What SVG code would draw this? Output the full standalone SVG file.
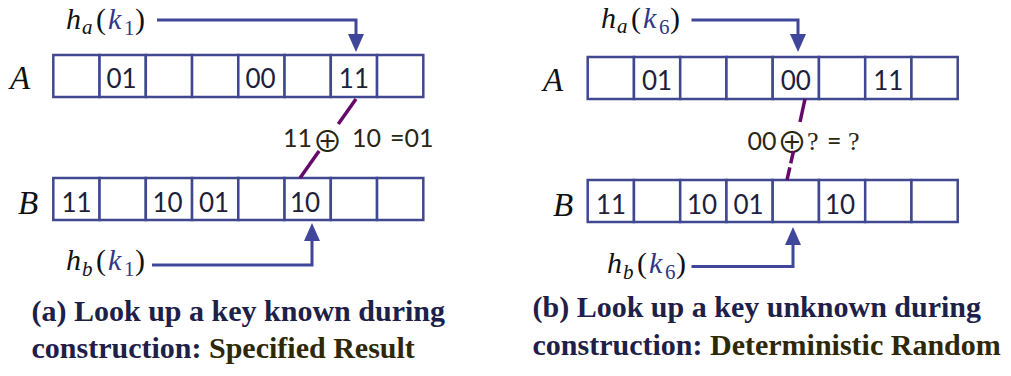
<svg xmlns="http://www.w3.org/2000/svg" width="1011" height="376" viewBox="0 0 1011 376">
<style>
.cell{fill:#fff;stroke:#404891;stroke-width:2.5}
.val{font-family:Lato,"Liberation Sans",sans-serif;font-size:26px;fill:#1d1f3c;text-anchor:middle}
.row{font-family:"Liberation Serif",serif;font-style:italic;font-size:33px;fill:#111}
.math{font-family:"Liberation Serif",serif;font-size:30px;fill:#111}
.it{font-style:italic}
.sub{font-size:21px}
.kb{fill:#2f3888}
.arrow{fill:none;stroke:#40479a;stroke-width:3;stroke-linejoin:miter}
.xor{fill:none;stroke:#650a6a;stroke-width:3.5}
.dash{stroke-dasharray:13 4}
.f{font-family:Lato,"DejaVu Sans",sans-serif;font-size:25px;fill:#2a2612}
.op{font-family:"Noto Sans CJK SC","DejaVu Sans",sans-serif;font-size:30px}
.q{font-family:"Liberation Serif",serif;font-size:26px}
.cap{font-family:"Liberation Serif",serif;font-weight:bold;font-size:30px;fill:#1e2048}
.hl{fill:#2e2808}
</style>
<defs>
<marker id="ah" viewBox="0 0 18 16" refX="8" refY="8" markerWidth="18" markerHeight="16" markerUnits="userSpaceOnUse" orient="auto">
<path d="M0,0 L18,8 L0,16 z" fill="#40479a"/>
</marker>
</defs>

<!-- Panel (a) -->
<g id="a-label-A"><text class="row" x="10" y="89">A</text></g>
<g id="a-array-A">
<rect class="cell" x="53.3" y="55" width="46.25" height="42"/>
<rect class="cell" x="99.55" y="55" width="46.25" height="42"/>
<rect class="cell" x="145.8" y="55" width="46.25" height="42"/>
<rect class="cell" x="192.05" y="55" width="46.25" height="42"/>
<rect class="cell" x="238.3" y="55" width="46.25" height="42"/>
<rect class="cell" x="284.55" y="55" width="46.25" height="42"/>
<rect class="cell" x="330.8" y="55" width="46.25" height="42"/>
<rect class="cell" x="377.05" y="55" width="46.25" height="42"/>
<text class="val" x="121.5" y="88">01</text>
<text class="val" x="260.5" y="88">00</text>
<text class="val" x="353.9" y="88">11</text>
</g>
<g id="a-label-B"><text class="row" x="18" y="214">B</text></g>
<g id="a-array-B">
<rect class="cell" x="53.3" y="178" width="46.25" height="42"/>
<rect class="cell" x="99.55" y="178" width="46.25" height="42"/>
<rect class="cell" x="145.8" y="178" width="46.25" height="42"/>
<rect class="cell" x="192.05" y="178" width="46.25" height="42"/>
<rect class="cell" x="238.3" y="178" width="46.25" height="42"/>
<rect class="cell" x="284.55" y="178" width="46.25" height="42"/>
<rect class="cell" x="330.8" y="178" width="46.25" height="42"/>
<rect class="cell" x="377.05" y="178" width="46.25" height="42"/>
<text class="val" x="76.5" y="211.5">11</text>
<text class="val" x="167.5" y="211.5">10</text>
<text class="val" x="214" y="211.5">01</text>
<text class="val" x="305" y="211.5">10</text>
</g>
<g id="a-ha"><text class="math" y="29"><tspan class="it" x="66">h</tspan><tspan class="it sub" x="82" y="34">a</tspan><tspan x="96" y="29">(</tspan><tspan class="it kb" x="108">k</tspan><tspan class="sub kb" x="124" y="35">1</tspan><tspan x="135" y="29">)</tspan></text></g>
<g id="a-hb"><text class="math" y="270"><tspan class="it" x="66">h</tspan><tspan class="it sub" x="82" y="276">b</tspan><tspan x="96" y="270">(</tspan><tspan class="it kb" x="108">k</tspan><tspan class="sub kb" x="124" y="276">1</tspan><tspan x="135" y="270">)</tspan></text></g>
<g id="a-xor"><text class="f" y="147"><tspan x="283">11</tspan><tspan class="op" x="312.5" y="151.5">⊕</tspan><tspan x="352" y="147">10</tspan><tspan x="390">=01</tspan></text></g>
<g id="a-caption"><text class="cap" x="31.5" y="321">(a) Look up a key known during</text><text class="cap" x="31.5" y="357.5">construction: <tspan class="hl">Specified Result</tspan></text></g>

<!-- Panel (b) -->
<g id="b-label-A"><text class="row" x="543" y="91">A</text></g>
<g id="b-array-A">
<rect class="cell" x="587.7" y="57" width="46.25" height="42"/>
<rect class="cell" x="633.95" y="57" width="46.25" height="42"/>
<rect class="cell" x="680.2" y="57" width="46.25" height="42"/>
<rect class="cell" x="726.45" y="57" width="46.25" height="42"/>
<rect class="cell" x="772.7" y="57" width="46.25" height="42"/>
<rect class="cell" x="818.95" y="57" width="46.25" height="42"/>
<rect class="cell" x="865.2" y="57" width="46.25" height="42"/>
<rect class="cell" x="911.45" y="57" width="46.25" height="42"/>
<text class="val" x="657" y="90">01</text>
<text class="val" x="795.8" y="90">00</text>
<text class="val" x="888.3" y="90">11</text>
</g>
<g id="b-label-B"><text class="row" x="553" y="216">B</text></g>
<g id="b-array-B">
<rect class="cell" x="587.7" y="180" width="46.25" height="42"/>
<rect class="cell" x="633.95" y="180" width="46.25" height="42"/>
<rect class="cell" x="680.2" y="180" width="46.25" height="42"/>
<rect class="cell" x="726.45" y="180" width="46.25" height="42"/>
<rect class="cell" x="772.7" y="180" width="46.25" height="42"/>
<rect class="cell" x="818.95" y="180" width="46.25" height="42"/>
<rect class="cell" x="865.2" y="180" width="46.25" height="42"/>
<rect class="cell" x="911.45" y="180" width="46.25" height="42"/>
<text class="val" x="611" y="213.5">11</text>
<text class="val" x="702" y="213.5">10</text>
<text class="val" x="748.5" y="213.5">01</text>
<text class="val" x="840" y="213.5">10</text>
</g>
<g id="b-ha"><text class="math" y="28"><tspan class="it" x="601">h</tspan><tspan class="it sub" x="617" y="33">a</tspan><tspan x="631" y="28">(</tspan><tspan class="it kb" x="643">k</tspan><tspan class="sub kb" x="659" y="34">6</tspan><tspan x="670" y="28">)</tspan></text></g>
<g id="b-hb"><text class="math" y="273"><tspan class="it" x="607">h</tspan><tspan class="it sub" x="623" y="279">b</tspan><tspan x="637" y="273">(</tspan><tspan class="it kb" x="649">k</tspan><tspan class="sub kb" x="665" y="279">6</tspan><tspan x="676" y="273">)</tspan></text></g>
<g id="b-xor"><text class="f" y="150"><tspan x="747.5">00</tspan><tspan class="op" x="777" y="153">⊕</tspan><tspan class="q" x="807" y="150">?</tspan><tspan x="827">=</tspan><tspan class="q" x="848">?</tspan></text></g>
<g id="b-caption"><text class="cap" x="532.5" y="316.5">(b) Look up a key unknown during</text><text class="cap" x="532.5" y="355">construction: <tspan class="hl">Deterministic Random</tspan></text></g>

<!-- Connectors -->
<g id="connectors">
<path class="arrow" d="M157,20 H356 V42" marker-end="url(#ah)"/>
<path class="arrow" d="M152,265 H312 V233" marker-end="url(#ah)"/>
<path class="arrow" d="M691.5,20 H798 V42" marker-end="url(#ah)"/>
<path class="arrow" d="M691.5,266.5 H793 V237" marker-end="url(#ah)"/>
<path class="xor" d="M356,99 L338.3,124"/>
<path class="xor" d="M319.1,151 L300,178"/>
<path class="xor" d="M805,99 L800,122"/>
<path class="xor dash" d="M787,180 L793.5,151"/>
</g>
</svg>
